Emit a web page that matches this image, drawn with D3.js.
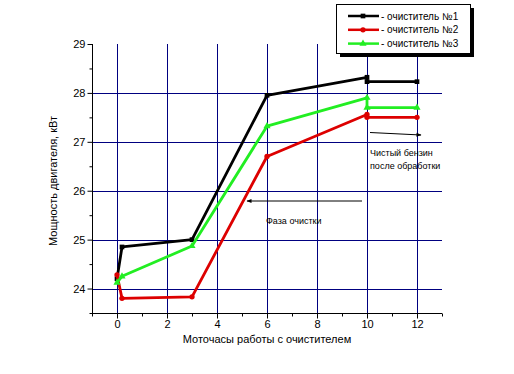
<!DOCTYPE html>
<html>
<head>
<meta charset="utf-8">
<script src="https://cdn.jsdelivr.net/npm/d3@7"></script>
<style>
  body { margin: 0; background: #fff; }
  text { font-family: "Liberation Sans", Arial, sans-serif; }
</style>
</head>
<body>
<div id="chart"></div>
<script>
// data
const hours1 = [0, 0.2, 3, 6, 10, 10, 12];
const power1 = [24.2, 24.85, 25.0, 27.95, 28.32, 28.23, 28.23];
const hours2 = [0, 0.2, 3, 6, 10, 10, 12];
const power2 = [24.28, 23.8, 23.83, 26.7, 27.56, 27.5, 27.5];
const hours3 = [0, 0.2, 3, 6, 10, 10, 12];
const power3 = [24.12, 24.25, 24.87, 27.32, 27.9, 27.7, 27.7];
const seriesNames = ["- очиститель №1", "- очиститель №2", "- очиститель №3"];
const seriesColors = ["#000000", "#dd0000", "#22ee22"];
const xTicks = [0, 2, 4, 6, 8, 10, 12];
const yTicks = [24, 25, 26, 27, 28, 29];

const width = 514, height = 374;
const margin = {top: 44, right: 72, bottom: 61, left: 92};

let svg = d3.select("#chart")
    .append("svg")
    .attr("width", width)
    .attr("height", height);

let x = d3.scaleLinear().domain([-1, 13]).range([margin.left, width - margin.right]);
let y = d3.scaleLinear().domain([23.5, 29]).range([height - margin.bottom, margin.top]);

let grid = svg.append("g").attr("stroke", "#000080").attr("stroke-width", 1);
grid.selectAll("line.v").data(xTicks).enter().append("line")
    .attr("x1", d => Math.round(x(d)) + 0.5).attr("x2", d => Math.round(x(d)) + 0.5)
    .attr("y1", y(29)).attr("y2", y(23.5));
grid.selectAll("line.h").data(yTicks.filter(d => d < 29)).enter().append("line")
    .attr("y1", d => Math.round(y(d)) + 0.5).attr("y2", d => Math.round(y(d)) + 0.5)
    .attr("x1", x(-1)).attr("x2", x(13));

// axes
let xAxis = svg.append("g")
    .attr("transform", `translate(0, ${Math.round(y(23.5)) + 0.5})`)
    .call(d3.axisBottom(x).tickValues(d3.range(-1, 14, 1)).tickSize(4)
        .tickFormat(d => xTicks.includes(d) ? d : ""));
let yAxis = svg.append("g")
    .attr("transform", `translate(${Math.round(x(-1)) + 0.5}, 0)`)
    .call(d3.axisLeft(y).tickValues(d3.range(23.5, 29.01, 0.5)).tickSize(4)
        .tickFormat(d => yTicks.includes(d) ? d : ""));
[xAxis, yAxis].forEach(function(a) {
    a.select(".domain").attr("stroke", "#000");
    a.selectAll("line").attr("stroke", "#000");
    a.selectAll("text").style("font-size", "11px").attr("fill", "#000");
});
xAxis.selectAll(".tick line").attr("y2", d => xTicks.includes(d) ? 5 : 3);
yAxis.selectAll(".tick line").attr("x2", d => yTicks.includes(d) ? -5 : -3);
xAxis.selectAll(".domain").attr("d", `M${x(-1)},0H${x(13)}`);
yAxis.selectAll(".domain").attr("d", `M0,${y(23.5)}V${y(29)}`);

svg.append("text")
    .attr("x", x(6)).attr("y", 343)
    .style("text-anchor", "middle").style("font-size", "11px")
    .text("Моточасы работы с очистителем");
svg.append("text")
    .attr("transform", `translate(57, ${y(26.2)}) rotate(-90)`)
    .style("text-anchor", "middle").style("font-size", "11px")
    .text("Мощность двигателя, кВт");

// series
const series = [
    {h: hours1, p: power1, marker: "square"},
    {h: hours2, p: power2, marker: "circle"},
    {h: hours3, p: power3, marker: "triangle"}
];
const symbolType = {square: d3.symbolSquare, circle: d3.symbolCircle, triangle: d3.symbolTriangle};

let line = d3.line().x(d => x(d[0])).y(d => y(d[1]));
series.forEach(function(s, i) {
    let pts = s.h.map((h, j) => [h, s.p[j]]);
    svg.append("path")
        .datum(pts)
        .attr("fill", "none")
        .attr("stroke", seriesColors[i])
        .attr("stroke-width", 2.8)
        .attr("stroke-linejoin", "round")
        .attr("d", line);
    svg.selectAll(".m" + i).data(pts).enter().append("path")
        .attr("transform", d => `translate(${x(d[0])}, ${y(d[1])})`)
        .attr("d", d3.symbol().type(symbolType[s.marker]).size(22))
        .attr("fill", seriesColors[i]);
});

// annotations
let defs = svg.append("defs");
defs.append("marker").attr("id", "arr")
    .attr("viewBox", "0 0 10 10").attr("refX", 9).attr("refY", 5)
    .attr("markerWidth", 6).attr("markerHeight", 5).attr("orient", "auto")
    .append("path").attr("d", "M0,1L10,5L0,9Z").attr("fill", "#000");

svg.append("line")
    .attr("x1", 370).attr("y1", 132.5).attr("x2", 421).attr("y2", 135)
    .attr("stroke", "#000").attr("stroke-width", 1).attr("marker-end", "url(#arr)");
svg.append("text").attr("x", 370).attr("y", 156).style("font-size", "9px").text("Чистый бензин");
svg.append("text").attr("x", 370).attr("y", 169).style("font-size", "9px").text("после обработки");

svg.append("line")
    .attr("x1", 362).attr("y1", 201).attr("x2", 247).attr("y2", 201)
    .attr("stroke", "#000").attr("stroke-width", 1).attr("marker-end", "url(#arr)");
svg.append("text").attr("x", 266).attr("y", 224).style("font-size", "9px").text("Фаза очистки");

// legend
let legend = svg.append("g");
legend.append("rect").attr("x", 340).attr("y", 8).attr("width", 134).attr("height", 49).attr("fill", "#000");
legend.append("rect").attr("x", 336.5).attr("y", 4.5).attr("width", 134).attr("height", 49)
    .attr("fill", "#fff").attr("stroke", "#000");
seriesNames.forEach(function(name, i) {
    let ly = 16 + i * 13.8;
    legend.append("line").attr("x1", 348).attr("x2", 379).attr("y1", ly).attr("y2", ly)
        .attr("stroke", seriesColors[i]).attr("stroke-width", 2.5);
    legend.append("path")
        .attr("transform", `translate(363, ${ly})`)
        .attr("d", d3.symbol().type(symbolType[series[i].marker]).size(22))
        .attr("fill", seriesColors[i]);
    legend.append("text").attr("x", 381).attr("y", ly + 3.5)
        .style("font-size", "10px").text(name);
});
</script>
</body>
</html>
